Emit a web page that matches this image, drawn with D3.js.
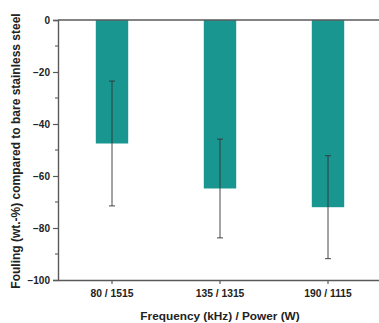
<!DOCTYPE html>
<html>
<head>
<meta charset="utf-8">
<script src="https://cdn.jsdelivr.net/npm/d3@7"></script>
<style>
  body { margin: 0; background: #fff; }
  svg { display: block; font-family: "Liberation Sans", Arial, sans-serif; }
</style>
</head>
<body>
<div id="main"></div>
<script>
const categories = ["80 / 1515", "135 / 1315", "190 / 1115"];
const fouling = [-47.5, -64.8, -72.0];
const errors = [24.0, 19.0, 19.8];
const yTicks = [0, -20, -40, -60, -80, -100];
const yMinorTicks = [-10, -30, -50, -70, -90];

const ctx = {
    width: 379,
    height: 323,
    left: 58,
    right: 382,
    top: 20,
    bottom: 280,
    barColor: "#1a9691",
    axisColor: "#5a5a5a"
};

function createViz(){
    let svg = d3.select("#main").append("svg")
        .attr("width", ctx.width)
        .attr("height", ctx.height);

    let x = d3.scaleBand()
        .domain(categories)
        .range([ctx.left, ctx.right])
        .paddingInner(0.7)
        .paddingOuter(0.35);
    let y = d3.scaleLinear()
        .domain([-100, 0])
        .range([ctx.bottom, ctx.top]);

    let data = categories.map((c, i) => ({cat: c, v: fouling[i], e: errors[i]}));

    // bars
    svg.append("g").selectAll("rect")
        .data(data)
        .enter()
        .append("rect")
        .attr("x", d => x(d.cat))
        .attr("y", y(0))
        .attr("width", x.bandwidth())
        .attr("height", d => y(d.v) - y(0))
        .attr("fill", ctx.barColor);

    // error bars
    let errG = svg.append("g").attr("stroke", "#333").attr("stroke-width", 0.9);
    data.forEach(d => {
        let cx = x(d.cat) + x.bandwidth() / 2;
        errG.append("line")
            .attr("x1", cx).attr("x2", cx)
            .attr("y1", y(d.v + d.e)).attr("y2", y(d.v - d.e));
        [d.v + d.e, d.v - d.e].forEach(v => {
            errG.append("line")
                .attr("x1", cx - 3).attr("x2", cx + 3)
                .attr("y1", y(v)).attr("y2", y(v));
        });
    });

    // top line at 0
    svg.append("line")
        .attr("x1", ctx.left).attr("x2", ctx.right)
        .attr("y1", y(0)).attr("y2", y(0))
        .attr("stroke", ctx.axisColor)
        .attr("stroke-width", 1.4);

    // y axis
    let yAxis = svg.append("g")
        .attr("transform", "translate(" + ctx.left + ",0)")
        .call(d3.axisLeft(y).tickValues(yTicks).tickSize(5).tickPadding(3).tickFormat(d3.format("d")));
    yAxis.select(".domain").attr("stroke", ctx.axisColor).attr("stroke-width", 1.4);
    yAxis.selectAll(".tick line").attr("stroke", ctx.axisColor).attr("stroke-width", 1.2);
    yAxis.selectAll("text")
        .attr("font-size", "10px")
        .attr("font-weight", "bold")
        .attr("fill", "#222")
        .attr("font-family", "Liberation Sans, Arial, sans-serif");
    svg.append("g")
        .attr("transform", "translate(" + ctx.left + ",0)")
        .selectAll("line")
        .data(yMinorTicks)
        .enter()
        .append("line")
        .attr("x1", -3).attr("x2", 0)
        .attr("y1", d => y(d)).attr("y2", d => y(d))
        .attr("stroke", ctx.axisColor)
        .attr("stroke-width", 1.1);

    // x axis
    let xAxis = svg.append("g")
        .attr("transform", "translate(0," + ctx.bottom + ")")
        .call(d3.axisBottom(x).tickSize(4).tickSizeOuter(0).tickPadding(6));
    xAxis.select(".domain").attr("stroke", ctx.axisColor).attr("stroke-width", 1.4);
    xAxis.selectAll(".tick line").attr("stroke", ctx.axisColor).attr("stroke-width", 1.2);
    xAxis.selectAll("text")
        .attr("font-size", "10.3px")
        .attr("font-weight", "bold")
        .attr("fill", "#222")
        .attr("font-family", "Liberation Sans, Arial, sans-serif");

    // axis titles
    svg.append("text")
        .attr("x", 220)
        .attr("y", 320)
        .attr("text-anchor", "middle")
        .attr("font-size", "11.8px")
        .attr("font-weight", "bold")
        .attr("fill", "#222")
        .text("Frequency (kHz) / Power (W)");
    svg.append("text")
        .attr("transform", "translate(20," + 151 + ") rotate(-90)")
        .attr("text-anchor", "middle")
        .attr("font-size", "12px")
        .attr("font-weight", "bold")
        .attr("fill", "#222")
        .text("Fouling (wt.-%) compared to bare stainless steel");
}

createViz();
</script>
</body>
</html>
